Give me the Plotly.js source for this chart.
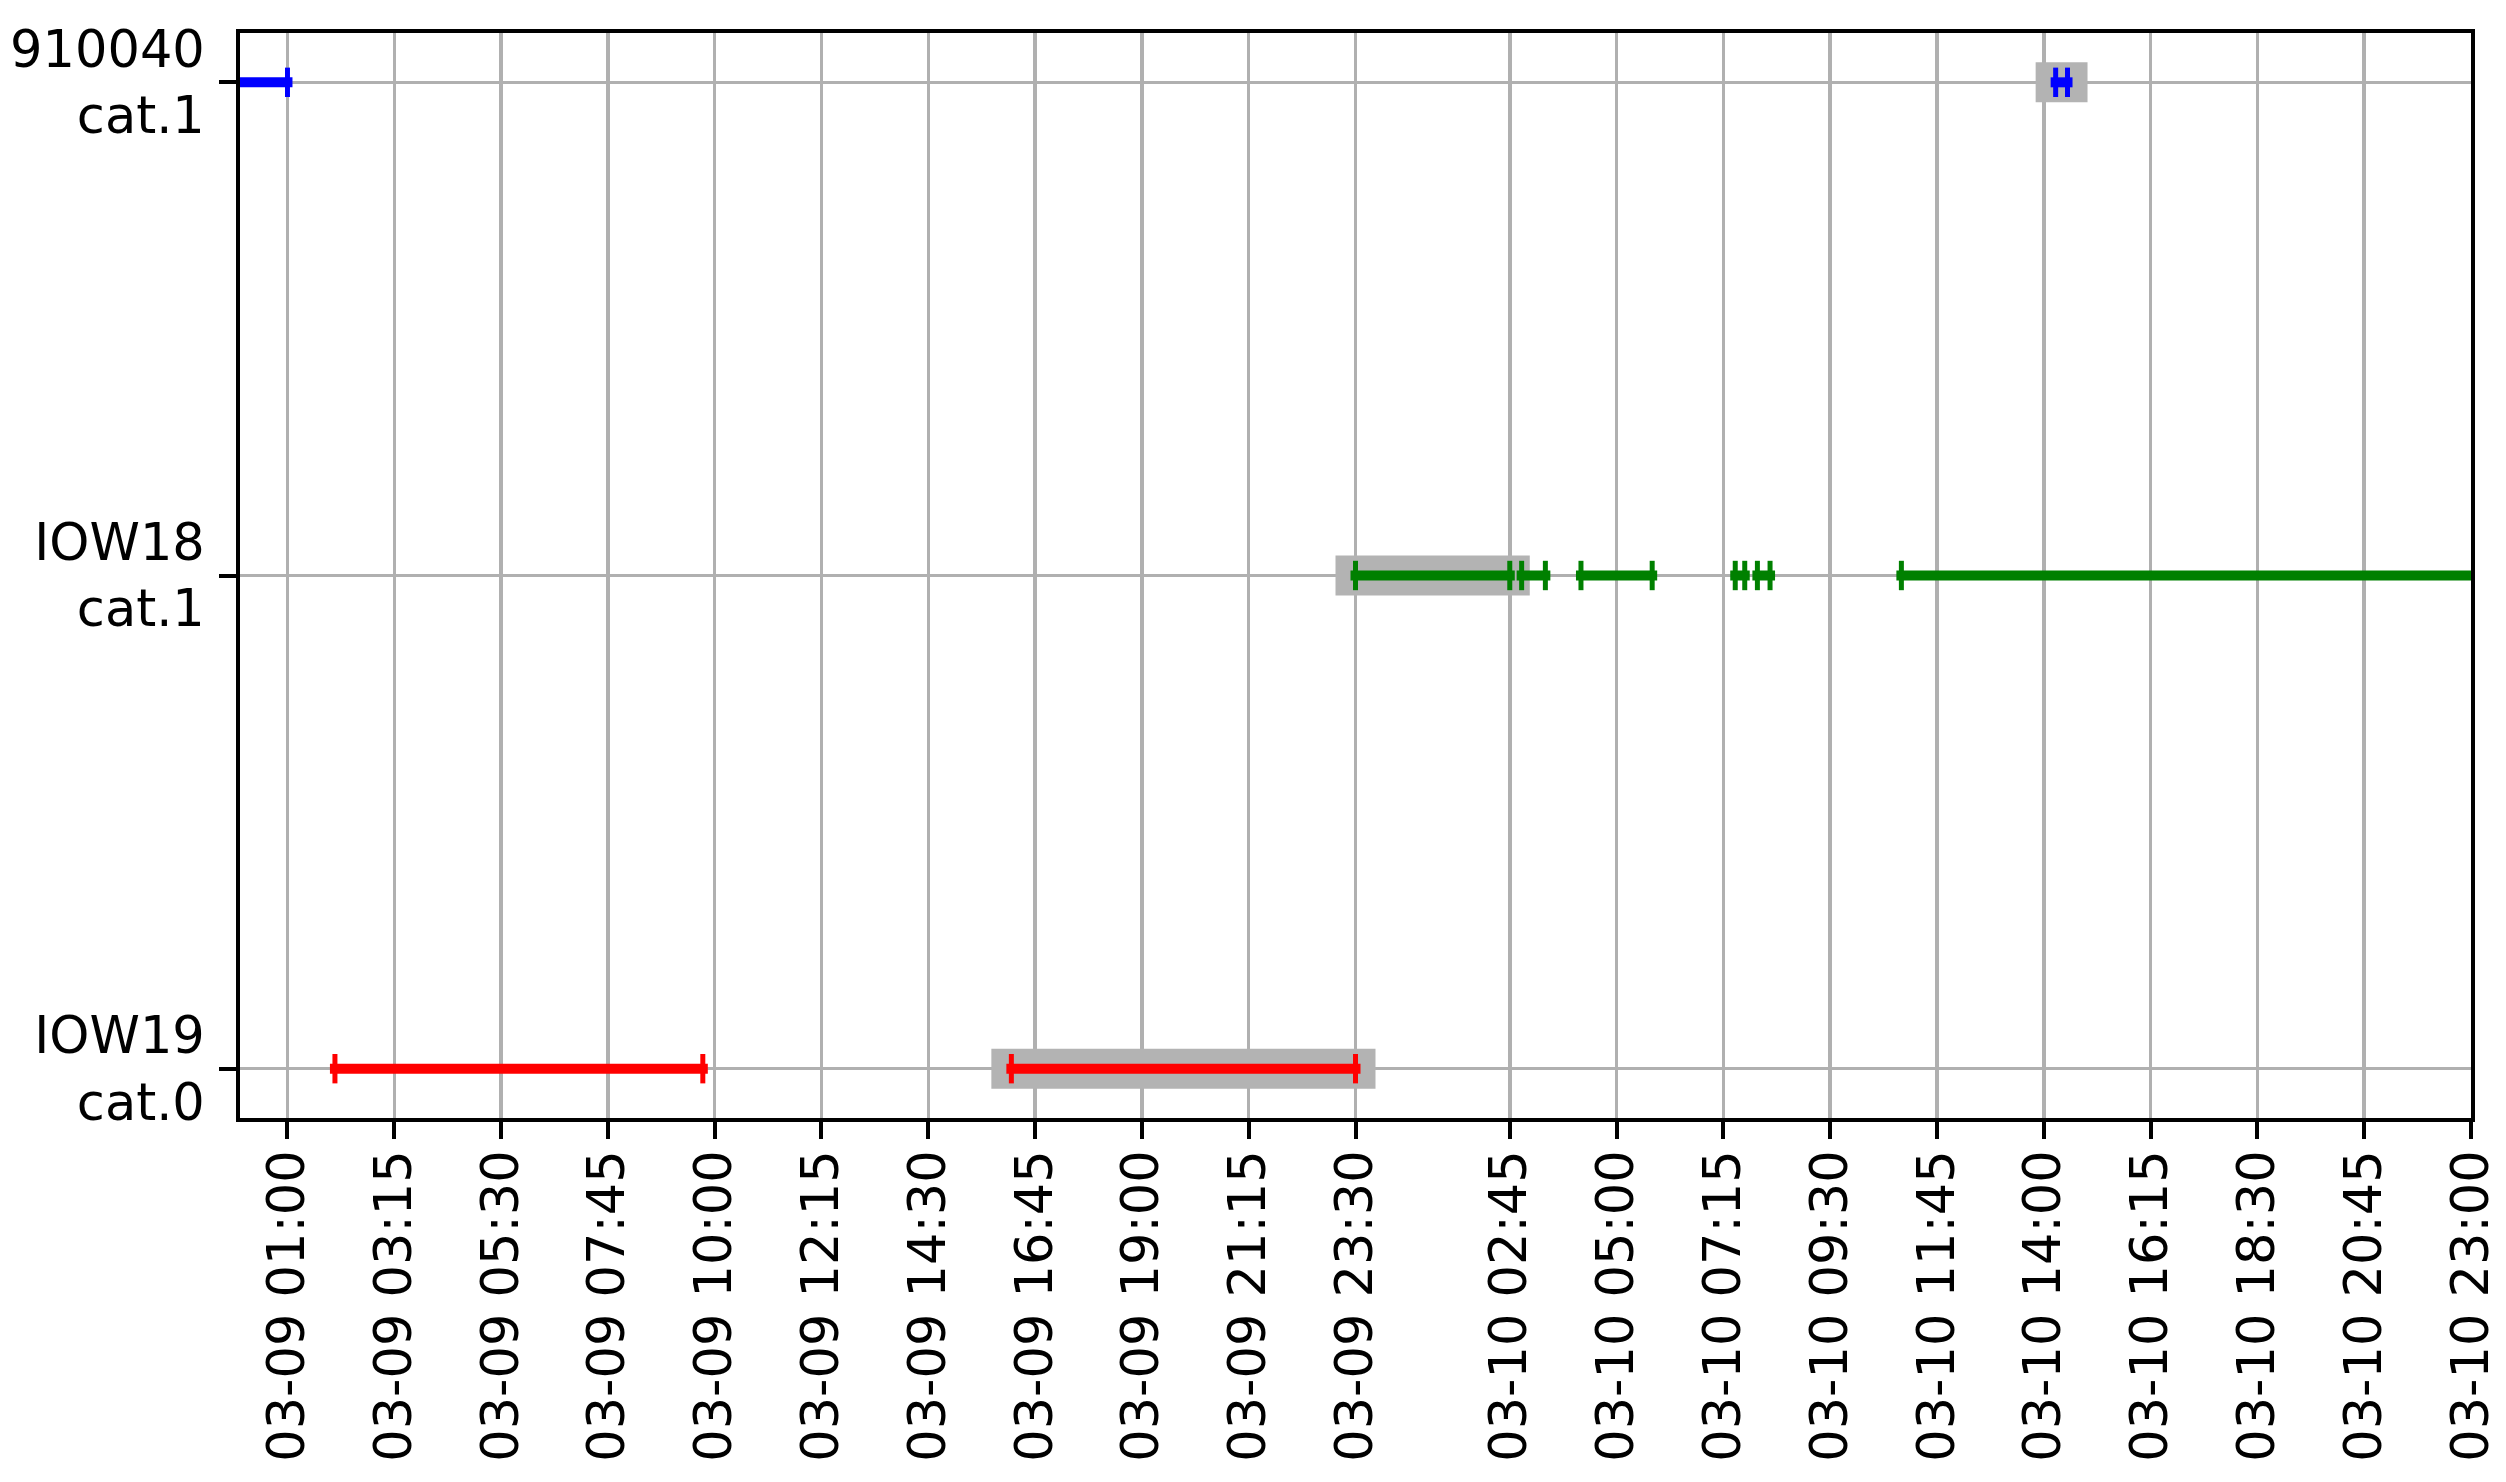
<!DOCTYPE html>
<html>
<head>
<meta charset="utf-8">
<script src="https://cdn.plot.ly/plotly-3.0.1.min.js"></script>
<style>
  html, body { margin: 0; padding: 0; background: #fff; }
  /* matplotlib style projecting line ends */
  .scatterlayer .js-line { stroke-linecap: square; }
</style>
</head>
<body>
<div id="chart" style="width:2506px;height:1482px;"></div>
<script>
// rows, bottom to top
var rows = ['IOW19', 'IOW18', '910040'];
var rowCats = ['cat.0', 'cat.1', 'cat.1'];

// time intervals per row
var redStart = ['2021-03-09 02:00', '2021-03-09 16:15'];
var redEnd = ['2021-03-09 09:45', '2021-03-09 23:30'];

var greenStart = ['2021-03-09 23:30', '2021-03-10 03:00', '2021-03-10 04:15',
                  '2021-03-10 07:30', '2021-03-10 07:58', '2021-03-10 11:00'];
var greenEnd = ['2021-03-10 02:45', '2021-03-10 03:30', '2021-03-10 05:45',
                '2021-03-10 07:42', '2021-03-10 08:14', '2021-03-11 03:00'];

var blueStart = ['2021-03-08 21:00', '2021-03-10 14:15'];
var blueEnd = ['2021-03-09 01:00', '2021-03-10 14:30'];

// highlighted intervals (grey band)
var hlRow = ['IOW19', 'IOW18', '910040'];
var hlStart = ['2021-03-09 16:15', '2021-03-09 23:30', '2021-03-10 14:15'];
var hlEnd = ['2021-03-09 23:30', '2021-03-10 02:45', '2021-03-10 14:30'];

// x tick positions
var xTicks = ['2021-03-09 01:00', '2021-03-09 03:15', '2021-03-09 05:30', '2021-03-09 07:45',
              '2021-03-09 10:00', '2021-03-09 12:15', '2021-03-09 14:30', '2021-03-09 16:45',
              '2021-03-09 19:00', '2021-03-09 21:15', '2021-03-09 23:30', '2021-03-10 02:45',
              '2021-03-10 05:00', '2021-03-10 07:15', '2021-03-10 09:30', '2021-03-10 11:45',
              '2021-03-10 14:00', '2021-03-10 16:15', '2021-03-10 18:30', '2021-03-10 20:45',
              '2021-03-10 23:00'];
var xRange = ['2021-03-09 00:00', '2021-03-10 23:00'];

function segTrace(row, starts, ends, color) {
    var x = [], y = [];
    for (var i = 0; i < starts.length; i++) {
        x.push(starts[i], ends[i], null);
        y.push(row, row, null);
    }
    return {
        x: x, y: y, type: 'scatter', mode: 'lines+markers',
        connectgaps: false, hoverinfo: 'skip',
        line: {color: color, width: 10},
        marker: {symbol: 'line-ns', size: 21, color: color,
                 line: {color: color, width: 5}}
    };
}

var hlX = [], hlY = [];
for (var i = 0; i < hlStart.length; i++) {
    hlX.push(hlStart[i], hlEnd[i], null);
    hlY.push(hlRow[i], hlRow[i], null);
}

var data = [
    {x: hlX, y: hlY, type: 'scatter', mode: 'lines', connectgaps: false,
     hoverinfo: 'skip', line: {color: '#b3b3b3', width: 40}},
    segTrace('IOW19', redStart, redEnd, '#ff0000'),
    segTrace('IOW18', greenStart, greenEnd, '#008000'),
    segTrace('910040', blueStart, blueEnd, '#0000ff')
];

var layout = {
    width: 2506, height: 1482,
    margin: {l: 240, r: 35, t: 33, b: 364},
    paper_bgcolor: '#fff', plot_bgcolor: '#fff',
    showlegend: false,
    font: {family: 'DejaVu Sans', size: 51, color: '#000'},
    xaxis: {
        type: 'date', range: xRange,
        tickmode: 'array', tickvals: xTicks,
        ticktext: xTicks.map(function (t) { return t.slice(5); }),
        tickangle: -90,
        ticks: 'outside', ticklen: 17, tickwidth: 4, tickcolor: '#000',
        ticklabelstandoff: -9,
        showgrid: true, gridcolor: '#b0b0b0', gridwidth: 3.5,
        zeroline: false,
        showline: true, linecolor: '#000', linewidth: 4, mirror: true
    },
    yaxis: {
        type: 'category', categoryorder: 'array', categoryarray: rows,
        range: [-0.1, 2.1],
        tickmode: 'array', tickvals: rows,
        ticktext: rows.map(function (r, i) { return r + '<br>' + rowCats[i]; }),
        ticks: 'outside', ticklen: 17, tickwidth: 4, tickcolor: '#000',
        ticklabelstandoff: 4,
        showgrid: true, gridcolor: '#b0b0b0', gridwidth: 3.5,
        zeroline: false,
        showline: true, linecolor: '#000', linewidth: 4, mirror: true
    }
};

Plotly.newPlot('chart', data, layout, {staticPlot: true});
</script>
</body>
</html>
